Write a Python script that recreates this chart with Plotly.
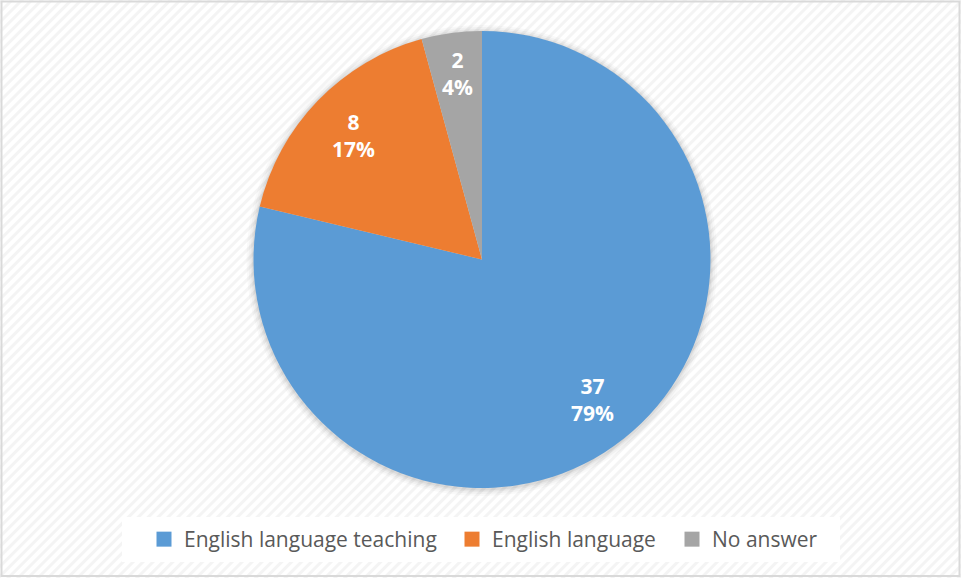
import math
import plotly.graph_objects as go

labels = ["English language teaching", "English language", "No answer"]
values = [37, 8, 2]
colors = ["#5B9BD5", "#ED7D31", "#A5A5A5"]
legend_x = [157, 465, 685]   # left edge of each legend swatch (px)

W, H = 961, 578
cx, cy, R = 482, 259.5, 228.5

total = sum(values)
pcts = [round(v / total * 100) for v in values]

fig = go.Figure()
fig.add_trace(go.Pie(
    labels=labels, values=values, sort=False, direction="clockwise", rotation=0,
    marker=dict(colors=colors, line=dict(width=0)),
    textinfo="none", hoverinfo="label+value+percent", showlegend=False,
    domain=dict(x=[(cx - R) / W, (cx + R) / W], y=[1 - (cy + R) / H, 1 - (cy - R) / H]),
))

# legend entries (one legend per entry so the spacing can follow the reference)
legend_names = ["legend", "legend2", "legend3"]
for lab, col, ln in zip(labels, colors, legend_names):
    fig.add_trace(go.Scatter(x=[None], y=[None], mode="markers", name=lab, legend=ln,
                             marker=dict(symbol="square", size=15, color=col),
                             showlegend=True, hoverinfo="skip"))

# data labels placed at the mid-angle of each slice
ann = []
cum = 0
for v, p in zip(values, pcts):
    mid = (cum + v / 2) / total * 2 * math.pi
    cum += v
    rf = 0.78 if v / total > 0.08 else 0.82
    x = cx + rf * R * math.sin(mid)
    y = cy - rf * R * math.cos(mid)
    ann.append(dict(x=x / W, y=1 - y / H, xref="paper", yref="paper",
                    xanchor="center", yanchor="middle",
                    text=f"<b>{v}</b><br><b>{p}%</b>", showarrow=False,
                    font=dict(family="Open Sans", size=21, color="white"),
                    align="center"))

stripe_svg = ("data:image/svg+xml;utf8,<svg xmlns='http://www.w3.org/2000/svg' width='961' height='578'>"
              "<defs><pattern id='p' width='7' height='7' patternUnits='userSpaceOnUse' patternTransform='rotate(45)'>"
              "<rect width='3' height='7' fill='%23f4f4f4'/></pattern></defs>"
              "<rect width='961' height='578' fill='white'/><rect width='961' height='578' fill='url(%23p)'/></svg>")

shapes = []
# soft shadow around the pie
for dr, a in [(7, 0.025), (5, 0.03), (3, 0.04), (1.5, 0.05)]:
    shapes.append(dict(type="circle", xref="paper", yref="paper",
                       x0=(cx - R - dr) / W, x1=(cx + R + dr) / W,
                       y0=1 - (cy + R + dr + 1) / H, y1=1 - (cy - R - dr + 1) / H,
                       fillcolor=f"rgba(0,0,0,{a})", line=dict(width=0), layer="below"))
shapes += [
    dict(type="rect", xref="paper", yref="paper",
         x0=122 / W, x1=840 / W, y0=1 - 562 / H, y1=1 - 517 / H,
         fillcolor="white", line=dict(width=0), layer="below"),
    dict(type="rect", xref="paper", yref="paper",
         x0=1.5 / W, x1=1 - 1.5 / W, y0=2 / H, y1=1 - 1.5 / H,
         fillcolor="rgba(0,0,0,0)", line=dict(color="#d9d9d9", width=2)),
]

leg_common = dict(orientation="h", xanchor="left", yanchor="middle",
                  font=dict(family="Open Sans", size=21, color="#595959"),
                  bgcolor="rgba(0,0,0,0)", itemwidth=30, borderwidth=0)

fig.update_layout(
    width=W, height=H, margin=dict(l=0, r=0, t=0, b=0),
    paper_bgcolor="white", plot_bgcolor="rgba(0,0,0,0)",
    xaxis=dict(visible=False), yaxis=dict(visible=False),
    images=[dict(source=stripe_svg, xref="paper", yref="paper", x=0, y=1,
                 sizex=1, sizey=1, xanchor="left", yanchor="top", sizing="stretch", layer="below")],
    shapes=shapes,
    annotations=ann,
    showlegend=True,
    legend=dict(x=(legend_x[0] - 13) / W, y=1 - 539.5 / H, **leg_common),
    legend2=dict(x=(legend_x[1] - 13) / W, y=1 - 539.5 / H, **leg_common),
    legend3=dict(x=(legend_x[2] - 13) / W, y=1 - 539.5 / H, **leg_common),
)

fig.write_html("out.html", config={"displayModeBar": False},
               post_script="document.body.style.margin='0';document.body.style.overflow='hidden';")
